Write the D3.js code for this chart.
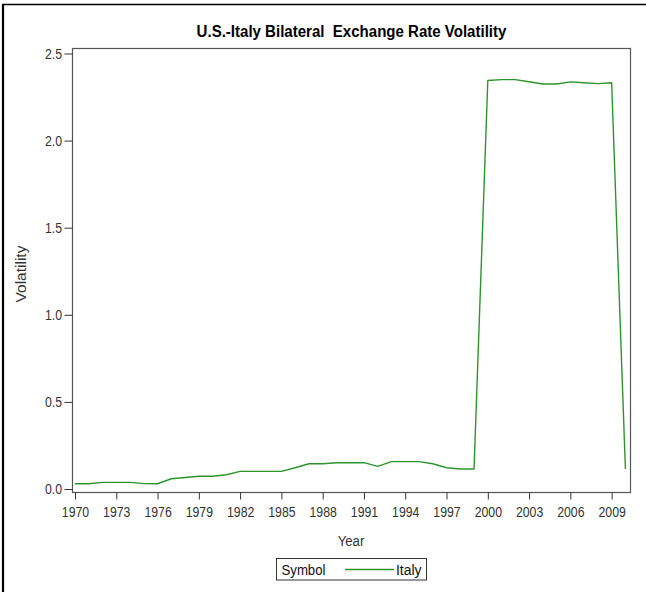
<!DOCTYPE html>
<html>
<head>
<meta charset="utf-8">
<script src="https://cdn.jsdelivr.net/npm/d3@7"></script>
<style>
  html, body { margin: 0; padding: 0; background: #fff; }
  svg { display: block; }
  text { font-family: "Liberation Sans", Arial, sans-serif; }
</style>
</head>
<body>
<svg id="chart" width="646" height="592"></svg>
<script>
const years = [1970,1971,1972,1973,1974,1975,1976,1977,1978,1979,1980,1981,1982,1983,1984,1985,1986,1987,1988,1989,1990,1991,1992,1993,1994,1995,1996,1997,1998,1999,2000,2001,2002,2003,2004,2005,2006,2007,2008,2009,2010];
const italyVolatility = [0.030,0.030,0.038,0.038,0.038,0.031,0.030,0.059,0.066,0.073,0.073,0.082,0.101,0.101,0.101,0.101,0.122,0.145,0.145,0.151,0.151,0.151,0.130,0.157,0.157,0.157,0.145,0.122,0.115,0.115,2.345,2.350,2.350,2.338,2.325,2.325,2.337,2.332,2.327,2.332,0.115];
const xTickYears = [1970,1973,1976,1979,1982,1985,1988,1991,1994,1997,2000,2003,2006,2009];
const yTickValues = [0.0,0.5,1.0,1.5,2.0,2.5];
const titleText = "U.S.-Italy Bilateral\u00A0 Exchange Rate Volatility";
const seriesName = "Italy";

const svg = d3.select("#chart");
const frame = {left: 72, right: 630, top: 48, bottom: 492};
const x = d3.scaleLinear().domain([1970, 2010]).range([75, 625.4]);
const y = d3.scaleLinear().domain([0, 2.5]).range([489, 53.5]);
const lineColor = "#2d942d";
const axisColor = "#333";

function label(tx, ty, sx, txt, size, opts = {}) {
  const t = svg.append("text")
    .attr("transform", `translate(${tx},${ty}) ${opts.rotate ? "rotate(" + opts.rotate + ")" : ""} scale(${sx},1)`)
    .attr("font-size", size)
    .attr("fill", opts.fill || "#333")
    .attr("text-anchor", opts.anchor || "start")
    .text(txt);
  if (opts.bold) t.attr("font-weight", "bold");
  return t;
}

// outer page borders
svg.append("line").attr("x1", 2).attr("x2", 646).attr("y1", 4.5).attr("y2", 4.5)
  .attr("stroke", "#000").attr("stroke-width", 1.5);
svg.append("line").attr("x1", 3).attr("x2", 3).attr("y1", 4).attr("y2", 592)
  .attr("stroke", "#000").attr("stroke-width", 2.2);

// title
label(351.5, 36.5, 0.885, titleText, 17, {anchor: "middle", bold: true, fill: "#000"});

// plot frame
svg.append("rect").attr("x", frame.left + 0.5).attr("y", frame.top + 0.5)
  .attr("width", frame.right - frame.left).attr("height", frame.bottom - frame.top)
  .attr("fill", "none").attr("stroke", "#555").attr("stroke-width", 1.2);

// axes
const xAxis = d3.axisBottom(x).tickValues(xTickYears).tickFormat(d3.format("d")).tickSize(7).tickSizeOuter(0);
const gx = svg.append("g").attr("transform", `translate(0,${frame.bottom + 0.5})`).call(xAxis);
gx.select(".domain").remove();
gx.selectAll(".tick line").attr("stroke", axisColor);
gx.selectAll(".tick text").attr("font-size", 15).attr("fill", "#333")
  .attr("dy", "0.95em").attr("y", 10).attr("transform", "scale(0.82,1)");

const ySx = 0.82;
const yAxis = d3.axisLeft(y).tickValues(yTickValues).tickFormat(d3.format(".1f")).tickSize(8).tickSizeOuter(0);
const gy = svg.append("g").attr("transform", `translate(${frame.left + 0.5},0)`).call(yAxis);
gy.select(".domain").remove();
gy.selectAll(".tick line").attr("stroke", axisColor);
gy.selectAll(".tick text").attr("font-size", 15).attr("fill", "#333")
  .attr("x", -10.5 / ySx).attr("transform", `scale(${ySx},1)`);

// axis labels
label(26, 274, 1, "Volatility", 15.5, {anchor: "middle", rotate: -90});
label(351, 546, 0.85, "Year", 15.5, {anchor: "middle"});

// line
const data = years.map((yr, i) => ({year: yr, v: italyVolatility[i]}));
svg.append("path").datum(data)
  .attr("fill", "none").attr("stroke", lineColor).attr("stroke-width", 1.4)
  .attr("stroke-linejoin", "round")
  .attr("d", d3.line().x(d => x(d.year)).y(d => y(d.v)));

// legend
svg.append("rect").attr("x", 276.5).attr("y", 558.5).attr("width", 150).attr("height", 21.5)
  .attr("fill", "#fff").attr("stroke", "#333").attr("stroke-width", 1);
label(281.5, 575, 0.88, "Symbol", 15, {fill: "#111"});
svg.append("line").attr("x1", 345).attr("x2", 394).attr("y1", 569.5).attr("y2", 569.5)
  .attr("stroke", lineColor).attr("stroke-width", 1.4);
label(396, 575, 0.93, seriesName, 15, {fill: "#111"});
</script>
</body>
</html>
